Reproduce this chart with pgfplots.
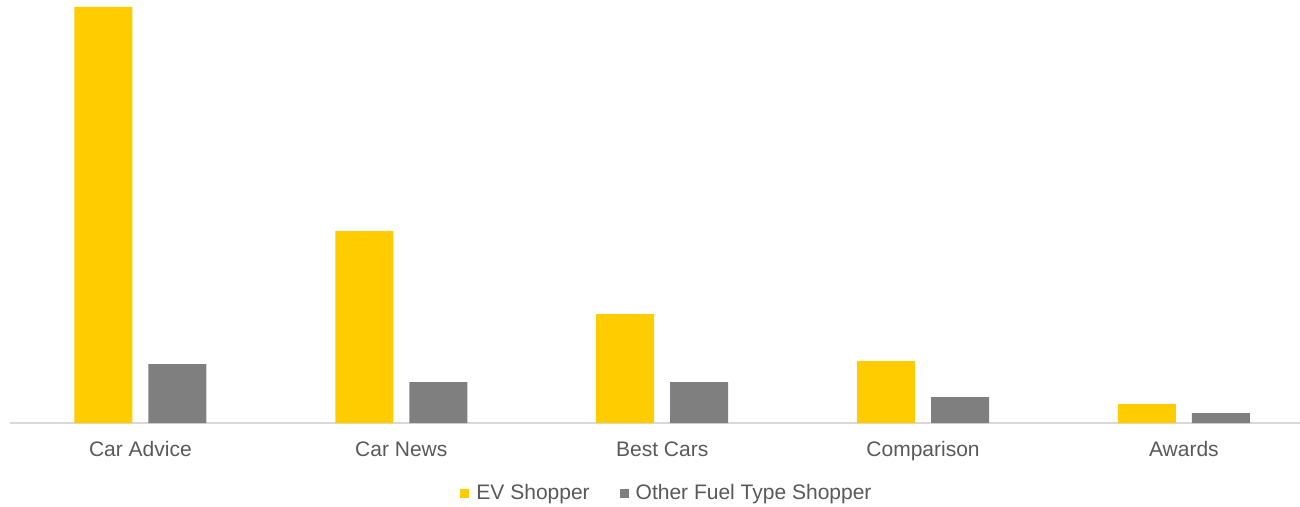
\documentclass[border=0pt]{standalone}
\usepackage{pgfplots}
\pgfplotsset{compat=1.18}
\usepackage{fontspec}
\setmainfont{Liberation Sans}
\definecolor{evyellow}{HTML}{FFCC00}
\definecolor{othergray}{HTML}{7F7F7F}
\definecolor{txt}{HTML}{595959}
\definecolor{axisgray}{HTML}{D9D9D9}
\begin{document}
\begin{tikzpicture}
\begin{axis}[
    name=ax,
    scale only axis,
    width=1290bp, height=416bp,
    xmin=-0.5, xmax=4.445,
    ymin=0, ymax=416,
    ybar=16bp,
    bar width=58bp,
    axis y line=none,
    axis x line*=bottom,
    x axis line style={axisgray, line width=1.5bp, -},
    xtick={0,1,2,3,4},
    xticklabels={Car Advice, Car News, Best Cars, Comparison, Awards},
    major tick length=0pt,
    xticklabel style={font=\fontsize{21bp}{25bp}\selectfont, text=txt, anchor=base, yshift=-33bp},
    legend columns=2,
    legend style={draw=none, at={(rel axis cs:0.5,0)}, anchor=center,
        xshift=12bp, yshift=-70bp, font=\fontsize{21bp}{25bp}\selectfont,
        text=txt, /tikz/every even column/.append style={column sep=28bp}},
    legend image code/.code={\fill[#1] (0bp,-4.5bp) rectangle (9bp,4.5bp);
        \path (0bp,0bp) -- (14bp,0bp);},
]
\addplot[draw=none, fill=evyellow] coordinates {(0,416) (1,192) (2,109) (3,62) (4,19)};
\addplot[draw=none, fill=othergray] coordinates {(0,59) (1,41) (2,41) (3,26) (4,10)};
\legend{EV Shopper, Other Fuel Type Shopper}
\end{axis}
\pgfresetboundingbox
\path ([xshift=-10bp, yshift=-83bp]ax.south west) rectangle ([yshift=7bp]ax.north east);
\end{tikzpicture}
\end{document}
